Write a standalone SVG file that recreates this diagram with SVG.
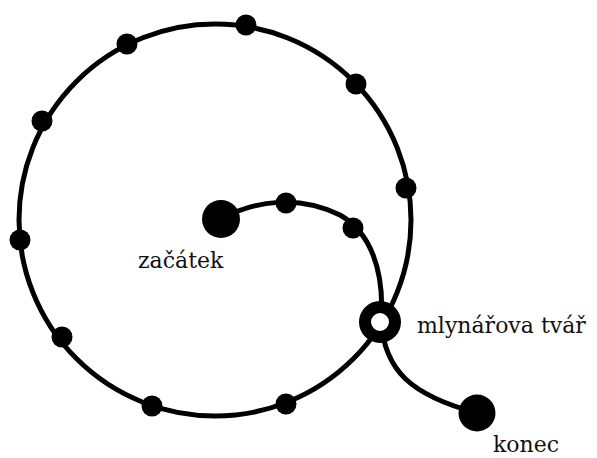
<svg xmlns="http://www.w3.org/2000/svg" width="597" height="458" viewBox="0 0 597 458">
<style>
.ln{fill:none;stroke:#000;stroke-width:5;stroke-linecap:round}
.dot{fill:#000}
.lbl{font-family:"DejaVu Serif","Liberation Serif",serif;font-size:22px;fill:#111}
</style>
<rect width="597" height="458" fill="#fff"/>
<g id="connectors">
<circle class="ln" cx="215" cy="220" r="196"/>
<path class="ln" d="M221,219 C255,200 300,195 340,215 C370,232 385,270 381,322"/>
<path class="ln" d="M381,322 C385,370 410,395 477,413"/>
</g>
<g id="ring-dots">
<circle class="dot" cx="246" cy="25" r="10.5"/>
<circle class="dot" cx="127" cy="44" r="10.5"/>
<circle class="dot" cx="42" cy="121" r="10.5"/>
<circle class="dot" cx="20" cy="240" r="10.5"/>
<circle class="dot" cx="62" cy="337" r="10.5"/>
<circle class="dot" cx="152" cy="406" r="10.5"/>
<circle class="dot" cx="286" cy="404" r="10.5"/>
<circle class="dot" cx="356" cy="84" r="10.5"/>
<circle class="dot" cx="406" cy="188" r="10.5"/>
<circle class="dot" cx="286" cy="203" r="10.5"/>
<circle class="dot" cx="353" cy="228" r="10.5"/>
</g>
<g id="zacatek">
<circle class="dot" cx="221" cy="219" r="19"/>
<text class="lbl" x="138" y="268">začátek</text>
</g>
<g id="mlynarova-tvar">
<circle cx="380" cy="322" r="15" fill="#fff" stroke="#000" stroke-width="12"/>
<text class="lbl" x="417" y="333">mlynářova tvář</text>
</g>
<g id="konec">
<circle class="dot" cx="477" cy="413" r="18.5"/>
<text class="lbl" x="493" y="452">konec</text>
</g>
</svg>
